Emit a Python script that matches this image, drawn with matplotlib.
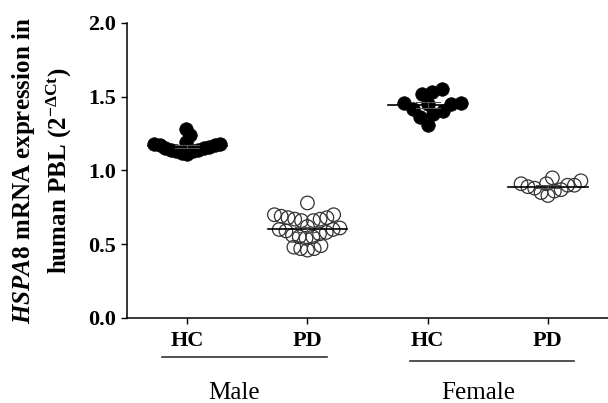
import numpy as np
import matplotlib
matplotlib.use("Agg")
import matplotlib.pyplot as plt
from matplotlib.transforms import blended_transform_factory

plt.rcParams['font.family'] = 'Liberation Serif'
plt.rcParams['mathtext.fontset'] = 'custom'
plt.rcParams['mathtext.rm'] = 'Liberation Serif:bold'
plt.rcParams['mathtext.it'] = 'Liberation Serif:italic:bold'
plt.rcParams['mathtext.bf'] = 'Liberation Serif:bold'

# values
groups = ["HC", "PD", "HC", "PD"]
sexes = ["Male", "Female"]
male_hc = [1.28, 1.24, 1.19, 1.18, 1.18, 1.17, 1.17, 1.16, 1.15, 1.15,
           1.14, 1.14, 1.13, 1.13, 1.12, 1.11]
male_pd = [0.78, 0.70, 0.70, 0.69, 0.68, 0.68, 0.67, 0.67, 0.66, 0.66,
           0.62, 0.61, 0.60, 0.60, 0.59, 0.58, 0.57, 0.56, 0.55, 0.55,
           0.54, 0.49, 0.48, 0.47, 0.47, 0.46]
female_hc = [1.55, 1.53, 1.52, 1.46, 1.46, 1.45, 1.45, 1.42, 1.40, 1.38,
             1.36, 1.31]
female_pd = [0.95, 0.93, 0.91, 0.91, 0.90, 0.90, 0.89, 0.88, 0.87, 0.86,
             0.85, 0.83]
yticks = [0.0, 0.5, 1.0, 1.5, 2.0]


def swarm(vals, xscale, yscale, min_dist=12.0, max_half=33.0, step=0.5):
    """Beeswarm offsets (data units), squeezed to fit the column width."""
    placed = []
    offs = np.zeros(len(vals))
    for i in np.argsort(vals, kind='stable'):
        y = vals[i] * yscale
        k = 0
        found = None
        while found is None:
            for sgn in (-1, 1):
                x = sgn * k * step
                if all(np.hypot(x - px, y - py) >= min_dist for px, py in placed):
                    found = x
                    break
            k += 1
        placed.append((found, y))
        offs[i] = found
    widest = np.abs(offs).max()
    if widest > max_half:
        offs = offs * max_half / widest
    return offs / xscale


fig = plt.figure(figsize=(6.08, 4.03), dpi=100)
ax = fig.add_axes([0.209, 0.211, 0.791, 0.732])
ax.set_xlim(-0.5, 3.5)
ax.set_ylim(0, 2.0)

xscale = 0.791 * 608 / 4.0   # px per x unit
yscale = 0.732 * 403 / 2.0   # px per y unit

data = [male_hc, male_pd, female_hc, female_pd]
for pos, vals in enumerate(data):
    vals = np.array(vals)
    offs = swarm(vals, xscale, yscale)
    if groups[pos] == "HC":
        ax.scatter(pos + offs, vals, s=95, color='black', edgecolors='black',
                   linewidths=0.5, zorder=3)
    else:
        ax.scatter(pos + offs, vals, s=95, facecolors='none',
                   edgecolors='#333333', linewidths=0.9, zorder=3)
    m = vals.mean()
    sem = vals.std(ddof=1) / np.sqrt(len(vals))
    ax.plot([pos - 0.33, pos + 0.33], [m, m], color='black', lw=1.2, zorder=4)
    ax.plot([pos, pos], [m - sem, m + sem], color='#555555', lw=0.8, zorder=4)
    for e in (m - sem, m + sem):
        ax.plot([pos - 0.1, pos + 0.1], [e, e], color='#555555', lw=0.8, zorder=4)

for side in ('top', 'right'):
    ax.spines[side].set_visible(False)
ax.spines['left'].set_linewidth(1.1)
ax.spines['bottom'].set_linewidth(1.1)

ax.set_yticks(yticks)
ax.set_yticklabels([f"{t:.1f}" for t in yticks], fontsize=16, fontweight='bold')
ax.set_xticks(range(4))
ax.set_xticklabels(groups, fontsize=16, fontweight='bold')
ax.tick_params(axis='both', direction='out', length=4.5, width=1.0)
ax.tick_params(axis='x', pad=5)

ax.set_ylabel("$\\mathit{HSPA8}$ mRNA expression in\nhuman PBL (2$^{-\\Delta\\mathrm{Ct}}$)",
              fontsize=18, fontweight='bold', linespacing=1.35, labelpad=10)

trans = blended_transform_factory(ax.transData, ax.transAxes)
ax.plot([-0.21, 1.16], [-0.132, -0.132], color='#333333', lw=1.2,
        transform=trans, clip_on=False)
ax.plot([1.85, 3.22], [-0.146, -0.146], color='#333333', lw=1.2,
        transform=trans, clip_on=False)
ax.text(0.39, -0.254, sexes[0], transform=trans, ha='center', va='center',
        fontsize=18)
ax.text(2.42, -0.254, sexes[1], transform=trans, ha='center', va='center',
        fontsize=18)

fig.savefig("out.png", dpi=100)
